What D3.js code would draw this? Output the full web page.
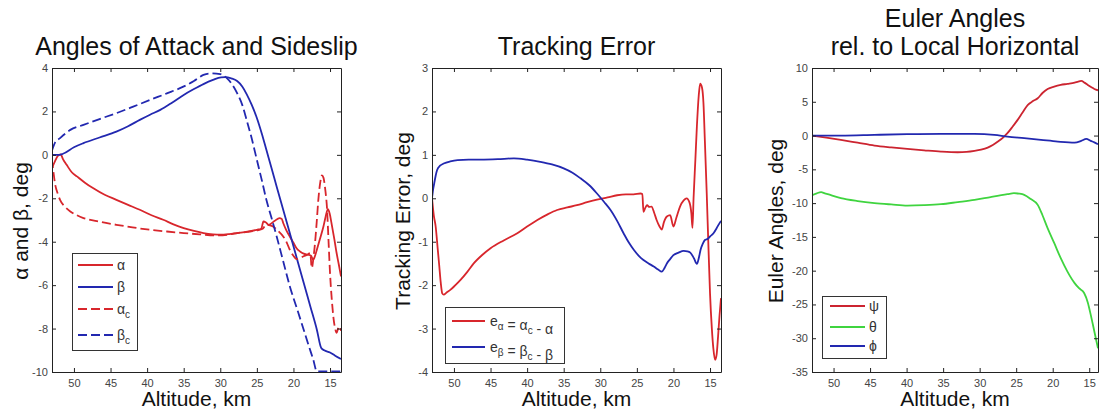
<!DOCTYPE html>
<html>
<head>
<meta charset="utf-8">
<script src="https://cdn.jsdelivr.net/npm/d3@7"></script>
<style>
  body { margin: 0; background: #fff; }
  svg { display: block; font-family: "Liberation Sans", Arial, Helvetica, sans-serif; }
</style>
</head>
<body>
<svg id="chart" width="1099" height="417"></svg>
<script>
// ---- Data: [altitude km, value deg] ----
const altTicks = [50, 45, 40, 35, 30, 25, 20, 15];

// Angles of attack and sideslip
const alpha = [[53.0,-0.6],[52.6,-0.3],[52.2,-0.05],[51.8,0.02],[51.5,-0.2],[51.0,-0.46],[50.3,-0.8],[49.6,-0.99],[48.5,-1.28],[47.4,-1.53],[45.8,-1.84],[44.2,-2.07],[42.6,-2.3],[41.0,-2.53],[39.4,-2.78],[37.8,-2.99],[36.4,-3.2],[35.0,-3.37],[33.6,-3.5],[32.3,-3.6],[31.0,-3.66],[30.0,-3.68],[28.8,-3.65],[27.7,-3.6],[26.3,-3.54],[25.0,-3.45],[24.4,-3.4],[24.1,-3.07],[23.8,-3.1],[23.4,-3.22],[22.6,-3.05],[21.9,-2.91],[21.6,-2.95],[21.4,-3.14],[21.0,-3.45],[20.5,-3.76],[20.0,-4.05],[19.6,-4.29],[19.1,-4.45],[18.6,-4.55],[18.0,-4.6],[17.6,-4.65],[17.3,-4.83],[17.0,-4.6],[16.8,-4.37],[16.4,-3.9],[15.9,-3.3],[15.6,-2.85],[15.3,-2.5],[15.05,-2.7],[14.8,-3.14],[14.4,-3.9],[14.1,-4.52],[13.8,-5.05],[13.5,-5.6]];
const beta = [[53.0,0.0],[52.0,0.0],[51.5,0.05],[50.0,0.35],[48.7,0.54],[46.5,0.8],[44.2,1.07],[42.6,1.32],[41.0,1.61],[39.6,1.85],[38.2,2.07],[36.6,2.4],[35.0,2.76],[33.6,3.03],[32.3,3.26],[31.0,3.45],[29.9,3.57],[29.3,3.58],[28.5,3.52],[27.7,3.4],[27.0,3.15],[26.4,2.8],[25.7,2.3],[25.0,1.7],[24.3,0.95],[23.7,0.23],[23.0,-0.6],[22.3,-1.46],[21.4,-2.53],[20.5,-3.6],[19.6,-4.69],[18.6,-5.89],[17.7,-6.97],[16.8,-8.05],[16.2,-8.9],[15.8,-9.0],[15.0,-9.1],[14.3,-9.25],[13.5,-9.4]];
const alphaCmd = [[53.05,-0.2],[52.8,-0.8],[52.6,-1.3],[52.2,-1.8],[51.9,-2.07],[51.2,-2.4],[50.5,-2.61],[49.6,-2.78],[48.7,-2.91],[46.5,-3.08],[44.2,-3.22],[42.0,-3.34],[39.6,-3.45],[37.3,-3.53],[35.0,-3.6],[32.8,-3.66],[30.5,-3.71],[29.0,-3.68],[27.7,-3.6],[26.3,-3.55],[25.0,-3.48],[24.2,-3.4],[23.7,-3.22],[23.2,-3.25],[22.8,-3.3],[22.1,-3.5],[21.4,-3.76],[20.9,-4.05],[20.5,-4.37],[20.0,-4.65],[19.6,-4.8],[19.1,-4.75],[18.6,-4.67],[18.1,-4.6],[17.7,-4.52],[17.5,-5.21],[17.25,-4.7],[17.05,-4.06],[16.8,-3.0],[16.6,-2.07],[16.35,-1.3],[16.1,-0.95],[15.9,-1.05],[15.65,-1.6],[15.4,-2.53],[15.2,-4.0],[15.0,-5.44],[14.75,-6.7],[14.5,-7.59],[14.3,-8.0],[14.1,-8.2],[13.9,-8.0],[13.7,-7.9],[13.5,-8.1]];
const betaCmd = [[53.0,0.2],[52.6,0.55],[51.9,0.77],[50.5,1.15],[48.7,1.38],[46.5,1.65],[44.2,1.92],[41.9,2.22],[39.6,2.53],[37.3,2.83],[35.05,3.14],[33.6,3.4],[32.3,3.68],[31.4,3.75],[30.0,3.72],[29.1,3.53],[28.4,3.25],[27.7,2.84],[27.0,2.3],[26.4,1.61],[25.7,0.75],[25.0,-0.23],[24.3,-1.2],[23.7,-2.07],[23.0,-2.9],[22.3,-3.75],[21.4,-4.9],[20.5,-6.05],[19.5,-7.1],[18.6,-8.05],[17.9,-8.8],[17.3,-9.42],[16.8,-9.97],[15.0,-9.97],[13.5,-9.97]];

// Tracking error
const errAlpha = [[53.0,0.0],[52.75,-0.4],[52.5,-0.65],[52.2,-1.2],[52.0,-1.57],[51.8,-1.95],[51.6,-2.19],[51.4,-2.22],[51.0,-2.17],[50.5,-2.11],[49.8,-2.0],[49.1,-1.88],[48.2,-1.7],[47.3,-1.5],[46.1,-1.3],[45.0,-1.15],[43.2,-0.97],[41.4,-0.81],[40.0,-0.65],[38.6,-0.5],[37.2,-0.37],[35.9,-0.27],[34.5,-0.21],[33.2,-0.16],[31.8,-0.09],[30.45,-0.03],[29.0,0.02],[27.7,0.07],[26.5,0.09],[25.45,0.09],[24.5,0.11],[24.25,0.1],[24.1,-0.31],[23.85,-0.22],[23.6,-0.16],[23.3,-0.2],[23.0,-0.19],[22.6,-0.35],[22.3,-0.5],[21.9,-0.65],[21.6,-0.72],[21.3,-0.55],[20.9,-0.42],[20.45,-0.39],[20.0,-0.65],[19.6,-0.45],[19.1,-0.19],[18.6,-0.05],[18.2,0.0],[17.8,-0.1],[17.55,-0.35],[17.4,-0.68],[17.25,0.0],[17.0,0.9],[16.8,1.64],[16.55,2.35],[16.35,2.64],[16.1,2.55],[15.9,2.2],[15.7,1.3],[15.45,0.11],[15.2,-1.2],[15.0,-2.19],[14.75,-3.0],[14.55,-3.45],[14.3,-3.72],[14.1,-3.6],[13.9,-3.18],[13.7,-2.7],[13.5,-2.3]];
const errBeta = [[53.0,0.0],[52.85,0.2],[52.7,0.34],[52.5,0.52],[52.3,0.65],[51.9,0.75],[51.4,0.8],[50.5,0.85],[49.5,0.88],[48.0,0.89],[46.4,0.89],[44.0,0.9],[41.8,0.92],[40.0,0.89],[38.2,0.84],[36.6,0.78],[35.0,0.69],[33.8,0.59],[32.7,0.46],[31.5,0.3],[30.45,0.11],[29.5,-0.08],[28.6,-0.27],[27.7,-0.52],[26.8,-0.81],[26.1,-1.02],[25.4,-1.19],[24.7,-1.33],[24.1,-1.42],[23.4,-1.5],[22.7,-1.57],[22.1,-1.64],[21.6,-1.69],[21.2,-1.6],[20.9,-1.5],[20.45,-1.4],[20.0,-1.31],[19.3,-1.25],[18.6,-1.21],[18.1,-1.22],[17.7,-1.25],[17.2,-1.38],[16.8,-1.51],[16.5,-1.35],[16.3,-1.19],[16.0,-1.05],[15.7,-0.96],[15.3,-0.93],[15.0,-0.88],[14.5,-0.8],[14.1,-0.69],[13.8,-0.6],[13.5,-0.52]];

// Euler angles relative to the local horizontal
const psi = [[53.0,0.0],[51.0,-0.3],[49.0,-0.64],[46.7,-1.06],[44.4,-1.48],[42.1,-1.75],[39.9,-1.97],[37.6,-2.18],[35.3,-2.37],[33.0,-2.47],[31.8,-2.42],[30.7,-2.27],[29.8,-2.08],[28.9,-1.78],[28.2,-1.4],[27.5,-0.89],[26.8,-0.3],[26.2,0.35],[25.5,1.3],[24.8,2.32],[24.1,3.45],[23.4,4.54],[22.7,5.1],[22.05,5.52],[21.4,6.3],[20.7,6.9],[19.8,7.25],[18.9,7.5],[18.0,7.65],[17.0,7.84],[16.5,8.0],[16.1,8.09],[15.6,7.8],[15.2,7.5],[14.7,7.15],[14.3,6.9],[13.8,6.7]];
const theta = [[53.0,-8.88],[52.3,-8.55],[51.7,-8.38],[51.2,-8.55],[50.8,-8.68],[49.0,-9.27],[46.7,-9.7],[44.4,-10.0],[42.1,-10.2],[39.9,-10.36],[37.6,-10.3],[35.3,-10.16],[33.0,-9.85],[30.7,-9.52],[28.5,-9.1],[26.2,-8.68],[25.3,-8.53],[24.6,-8.6],[23.9,-8.78],[23.0,-9.4],[22.05,-10.26],[21.4,-11.8],[20.7,-13.7],[19.8,-15.9],[18.9,-18.15],[18.0,-20.1],[17.0,-21.84],[16.4,-22.6],[15.7,-23.3],[15.2,-24.7],[14.8,-26.5],[14.3,-29.0],[13.8,-31.5]];
const phi = [[53.0,0.0],[49.0,0.0],[44.4,0.1],[39.9,0.2],[35.3,0.25],[30.7,0.25],[28.0,0.1],[26.2,-0.15],[23.9,-0.39],[21.6,-0.64],[19.3,-0.89],[17.0,-1.04],[16.1,-0.79],[15.4,-0.49],[14.8,-0.79],[14.3,-1.0],[13.8,-1.28]];

// ---- Styling ----
const RED = "#d8262c", BLUE = "#2228b0", GREEN = "#3fd43f", PSI_RED = "#cc2430";
const DASH = "9,4";

const panels = [
  {
    box: {left: 52, right: 341, top: 68, bottom: 372},
    xDomain: [53, 13.5],
    yDomain: [-10, 4], yTicks: [-10, -8, -6, -4, -2, 0, 2, 4],
    title: ["Angles of Attack and Sideslip"],
    ylabel: "α and β, deg", ylabelX: 28,
    series: [
      {data: alpha, color: RED},
      {data: beta, color: BLUE},
      {data: alphaCmd, color: RED, dash: DASH},
      {data: betaCmd, color: BLUE, dash: DASH}
    ],
    legend: {
      x: 72, y: 253, w: 65, h: 97, lineX: [78, 113], textX: 117,
      rows: [
        {y: 265, color: RED, label: [{t: "α"}]},
        {y: 287, color: BLUE, label: [{t: "β"}]},
        {y: 309, color: RED, dash: DASH, label: [{t: "α"}, {t: "c", sub: true}]},
        {y: 335, color: BLUE, dash: DASH, label: [{t: "β"}, {t: "c", sub: true}]}
      ]
    }
  },
  {
    box: {left: 432, right: 721, top: 68, bottom: 372},
    xDomain: [53, 13.5],
    yDomain: [-4, 3], yTicks: [-4, -3, -2, -1, 0, 1, 2, 3],
    title: ["Tracking Error"],
    ylabel: "Tracking Error, deg", ylabelX: 410,
    series: [
      {data: errAlpha, color: RED},
      {data: errBeta, color: BLUE}
    ],
    legend: {
      x: 445, y: 307, w: 119, h: 56, lineX: [452, 485], textX: 490,
      rows: [
        {y: 321, color: RED, label: [{t: "e"}, {t: "α", sub: true}, {t: " =  α"}, {t: "c", sub: true}, {t: " - α"}]},
        {y: 347, color: BLUE, label: [{t: "e"}, {t: "β", sub: true}, {t: " = β"}, {t: "c", sub: true}, {t: " - β"}]}
      ]
    }
  },
  {
    box: {left: 812, right: 1098, top: 68, bottom: 372},
    xDomain: [52.95, 13.8],
    yDomain: [-35, 10], yTicks: [-35, -30, -25, -20, -15, -10, -5, 0, 5, 10],
    title: ["Euler Angles", "rel. to Local Horizontal"],
    ylabel: "Euler Angles, deg", ylabelX: 783,
    series: [
      {data: theta, color: GREEN},
      {data: psi, color: PSI_RED},
      {data: phi, color: BLUE}
    ],
    legend: {
      x: 822, y: 296, w: 64, h: 62, lineX: [830, 865], textX: 869,
      rows: [
        {y: 306, color: PSI_RED, label: [{t: "ψ"}]},
        {y: 327, color: GREEN, label: [{t: "θ"}]},
        {y: 346, color: BLUE, label: [{t: "ϕ"}]}
      ]
    }
  }
];

const svg = d3.select("#chart");
const defs = svg.append("defs");

function styleAxis(g) {
  g.select(".domain").attr("stroke", "#222").attr("stroke-width", 1);
  g.selectAll(".tick line").attr("stroke", "#222").attr("stroke-width", 1);
  g.selectAll(".tick text").attr("fill", "#444").attr("font-size", 11)
    .attr("font-family", "'Liberation Sans', Arial, sans-serif");
}

// legend label with subscripts
function drawLabel(sel, parts, mainSize, subSize) {
  parts.forEach(p => {
    if (p.sub) {
      sel.append("tspan").attr("font-size", subSize).attr("dy", 4).text(p.t);
      sel.append("tspan").attr("dy", -4).attr("font-size", mainSize).text("");
    } else {
      sel.append("tspan").attr("font-size", mainSize).text(p.t);
    }
  });
}

panels.forEach((p, i) => {
  const b = p.box;
  const x = d3.scaleLinear().domain(p.xDomain).range([b.left, b.right]);
  const y = d3.scaleLinear().domain(p.yDomain).range([b.bottom, b.top]);
  const g = svg.append("g");

  defs.append("clipPath").attr("id", "plotclip" + i)
    .append("rect").attr("x", b.left).attr("y", b.top)
    .attr("width", b.right - b.left).attr("height", b.bottom - b.top);

  // curves
  const line = d3.line().x(d => x(d[0])).y(d => y(d[1])).curve(d3.curveMonotoneX);
  const curves = g.append("g").attr("clip-path", `url(#plotclip${i})`);
  p.series.forEach(s => {
    curves.append("path").datum(s.data)
      .attr("d", line).attr("fill", "none")
      .attr("stroke", s.color).attr("stroke-width", 1.8)
      .attr("stroke-linejoin", "round")
      .attr("stroke-dasharray", s.dash || null);
  });

  // axes, box with inward ticks on all sides
  const fmt = d => String(d);
  g.append("g").attr("transform", `translate(0,${b.bottom})`)
    .call(d3.axisBottom(x).tickValues(altTicks).tickSize(-4).tickSizeOuter(0).tickPadding(7).tickFormat(fmt))
    .call(styleAxis);
  g.append("g").attr("transform", `translate(0,${b.top})`)
    .call(d3.axisTop(x).tickValues(altTicks).tickSize(-4).tickSizeOuter(0).tickFormat(""))
    .call(styleAxis);
  g.append("g").attr("transform", `translate(${b.left},0)`)
    .call(d3.axisLeft(y).tickValues(p.yTicks).tickSize(-4).tickSizeOuter(0).tickPadding(4).tickFormat(fmt))
    .call(styleAxis);
  g.append("g").attr("transform", `translate(${b.right},0)`)
    .call(d3.axisRight(y).tickValues(p.yTicks).tickSize(-4).tickSizeOuter(0).tickFormat(""))
    .call(styleAxis);

  // title
  const cx = (b.left + b.right) / 2;
  const titleLines = p.title;
  titleLines.forEach((t, k) => {
    const baseY = 55 - (titleLines.length - 1 - k) * 28;
    g.append("text").attr("x", cx).attr("y", baseY)
      .attr("text-anchor", "middle").attr("font-size", 25).attr("fill", "#111").text(t);
  });

  // axis labels
  g.append("text").attr("x", cx).attr("y", 406)
    .attr("text-anchor", "middle").attr("font-size", 21).attr("fill", "#111").text("Altitude, km");
  g.append("text")
    .attr("transform", `translate(${p.ylabelX},${(b.top + b.bottom) / 2 + 1}) rotate(-90)`)
    .attr("text-anchor", "middle").attr("font-size", 21).attr("fill", "#111").text(p.ylabel);

  // legend
  const L = p.legend;
  const lg = g.append("g");
  lg.append("rect").attr("x", L.x + 0.5).attr("y", L.y + 0.5).attr("width", L.w).attr("height", L.h)
    .attr("fill", "#fff").attr("stroke", "#333").attr("stroke-width", 1);
  L.rows.forEach(r => {
    lg.append("line").attr("x1", L.lineX[0]).attr("x2", L.lineX[1])
      .attr("y1", r.y).attr("y2", r.y)
      .attr("stroke", r.color).attr("stroke-width", 1.8)
      .attr("stroke-dasharray", r.dash || null);
    const t = lg.append("text").attr("x", L.textX).attr("y", r.y + 5).attr("fill", "#333");
    drawLabel(t, r.label, 14, 10);
  });
});
</script>
</body>
</html>
